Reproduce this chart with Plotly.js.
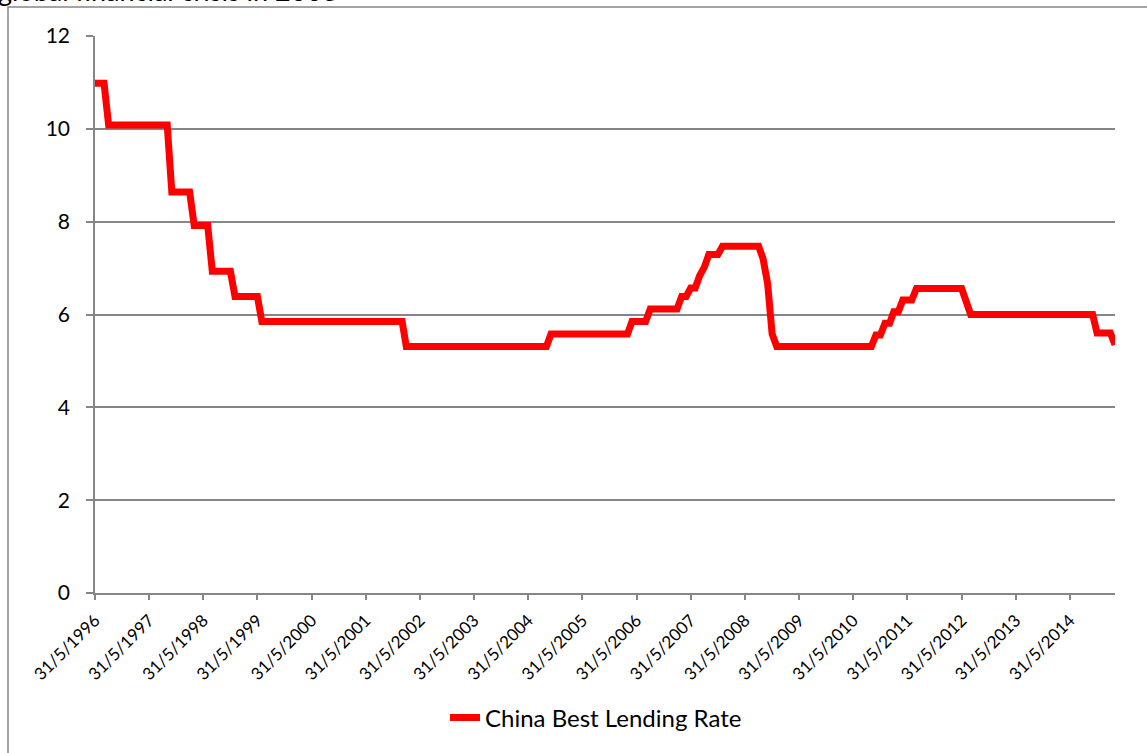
<!DOCTYPE html>
<html>
<head>
<meta charset="utf-8">
<script src="https://cdn.plot.ly/plotly-3.0.1.min.js"></script>
<style>
  html, body { margin: 0; padding: 0; background: #fff; }
  #chart { width: 1147px; height: 753px; }
</style>
</head>
<body>
<div id="chart"></div>
<script>
// Month-end observations around each change of the benchmark lending rate (%)
const monthEnds = [
  '1996-05-31', '1996-07-31', '1996-08-31', '1997-09-30', '1997-10-31',
  '1998-02-28', '1998-03-31', '1998-06-30', '1998-07-31', '1998-11-30',
  '1998-12-31', '1999-05-31', '1999-06-30', '2002-01-31', '2002-02-28',
  '2004-09-30', '2004-10-31', '2006-03-31', '2006-04-30', '2006-07-31',
  '2006-08-31', '2007-02-28', '2007-03-31', '2007-04-30', '2007-05-31',
  '2007-06-30', '2007-07-31', '2007-08-31', '2007-09-30', '2007-11-30',
  '2007-12-31', '2008-08-31', '2008-09-30', '2008-10-31', '2008-11-30',
  '2008-12-31', '2010-09-30', '2010-10-31', '2010-11-30', '2010-12-31',
  '2011-01-31', '2011-02-28', '2011-03-31', '2011-04-30', '2011-06-30',
  '2011-07-31', '2012-05-31', '2012-06-30', '2012-07-31', '2014-10-31',
  '2014-11-30', '2015-02-28', '2015-03-31'
];
const lendingRate = [
  10.98, 10.98, 10.08, 10.08, 8.64,
  8.64, 7.92, 7.92, 6.93, 6.93,
  6.39, 6.39, 5.85, 5.85, 5.31,
  5.31, 5.58, 5.58, 5.85, 5.85,
  6.12, 6.12, 6.39, 6.39, 6.57,
  6.57, 6.84, 7.02, 7.29, 7.29,
  7.47, 7.47, 7.20, 6.66, 5.58,
  5.31, 5.31, 5.56, 5.56, 5.81,
  5.81, 6.06, 6.06, 6.31, 6.31,
  6.56, 6.56, 6.31, 6.00, 6.00,
  5.60, 5.60, 5.35
];
const seriesName = 'China Best Lending Rate';
const titleText = 'global financial crisis in 2008';

// Yearly tick marks on 31 May
const tickYears = [1996, 1997, 1998, 1999, 2000, 2001, 2002, 2003, 2004, 2005,
                   2006, 2007, 2008, 2009, 2010, 2011, 2012, 2013, 2014];
const tickDates = tickYears.map(y => y + '-05-31');
const tickLabels = tickYears.map(y => '31/5/' + y);

const FONT = 'Lato, Calibri, "Liberation Sans", sans-serif';
const GRID = '#868686';

const W = 1147, H = 753;
const M = { l: 95, r: 32, t: 36, b: 160 };
const plotW = W - M.l - M.r, plotH = H - M.t - M.b;
// pixel -> paper coordinates
const px = x => (x - M.l) / plotW;
const py = y => (H - M.b - y) / plotH;

const trace = {
  type: 'scatter',
  mode: 'lines',
  name: seriesName,
  x: monthEnds,
  y: lendingRate,
  line: { color: '#ff0000', width: 7 },
  hoverinfo: 'x+y'
};

const layout = {
  width: W,
  height: H,
  margin: M,
  paper_bgcolor: '#ffffff',
  plot_bgcolor: '#ffffff',
  font: { family: FONT, color: '#000000' },
  showlegend: true,
  legend: {
    orientation: 'h',
    x: px(596), xanchor: 'center',
    y: py(718), yanchor: 'middle',
    font: { family: FONT, size: 24, color: '#000000' },
    bgcolor: 'rgba(0,0,0,0)'
  },
  xaxis: {
    type: 'date',
    range: ['1996-05-31', '2015-03-31'],
    tickmode: 'array',
    tickvals: tickDates,
    ticktext: tickLabels,
    tickangle: -45,
    ticks: 'outside',
    ticklen: 5,
    tickwidth: 1.5,
    tickcolor: GRID,
    ticklabelstandoff: 4,
    tickfont: { family: FONT, size: 17, color: '#000000' },
    showgrid: false,
    showline: true,
    linecolor: GRID,
    linewidth: 1.5,
    zeroline: false,
    fixedrange: true
  },
  yaxis: {
    range: [0, 12],
    tickvals: [0, 2, 4, 6, 8, 10, 12],
    ticks: 'outside',
    ticklen: 7,
    tickwidth: 1.5,
    tickcolor: GRID,
    ticklabelstandoff: 12,
    tickfont: { family: FONT, size: 21, color: '#000000' },
    showgrid: true,
    gridcolor: GRID,
    gridwidth: 1.5,
    showline: true,
    linecolor: GRID,
    linewidth: 1.5,
    zeroline: false,
    fixedrange: true
  },
  shapes: [
    // chart frame
    {
      type: 'rect', xref: 'paper', yref: 'paper',
      x0: px(8), x1: px(1160), y0: py(7), y1: py(770),
      line: { color: GRID, width: 1.5 },
      fillcolor: 'rgba(0,0,0,0)',
      layer: 'below'
    }
  ],
  annotations: [
    {
      text: titleText,
      xref: 'paper', yref: 'paper',
      x: px(-4), xanchor: 'left',
      y: py(9), yanchor: 'bottom',
      showarrow: false,
      font: { family: FONT, size: 27, color: '#000000' }
    }
  ]
};

Plotly.newPlot('chart', [trace], layout, { displayModeBar: false, staticPlot: false });
</script>
</body>
</html>
